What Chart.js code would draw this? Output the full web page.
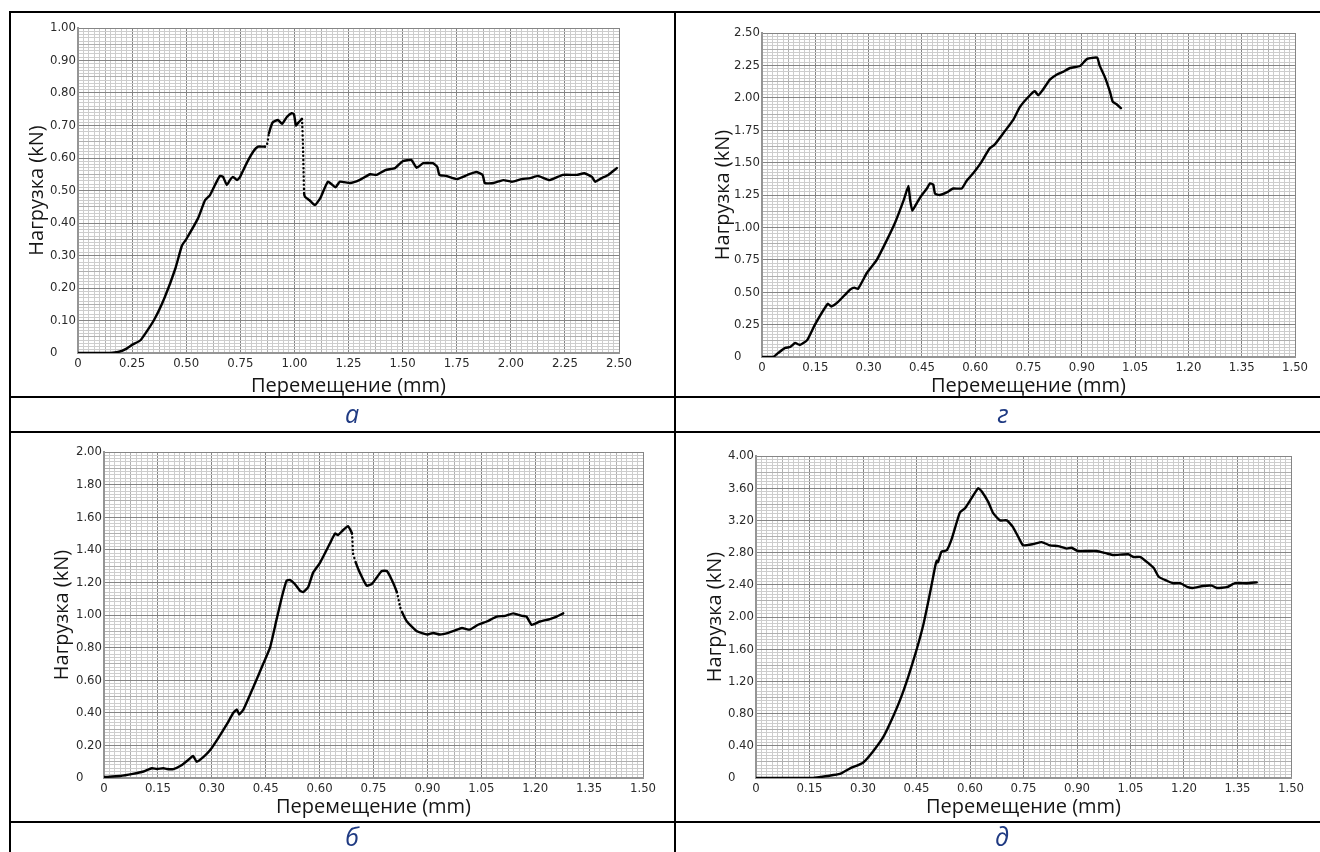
<!DOCTYPE html>
<html>
<head>
<meta charset="utf-8">
<script src="https://cdn.jsdelivr.net/npm/chart.js@4.4.0/dist/chart.umd.min.js"></script>
<style>
  body { margin: 0; background: #fff; }
  #page { position: relative; width: 1320px; height: 852px; overflow: hidden; background: #fff; }
  .rule { position: absolute; background: #000; }
  canvas { position: absolute; }
  .cap { position: absolute; transform: translate(-50%, -50%); font-family: "Open Sans", sans-serif;
         font-style: italic; font-size: 25px; line-height: 1; color: #1f3a82; }
</style>
</head>
<body>
<div id="page">
  <div class="rule" style="left:9px;top:11px;width:1311px;height:2px"></div>
  <div class="rule" style="left:9px;top:396px;width:1311px;height:2px"></div>
  <div class="rule" style="left:9px;top:431px;width:1311px;height:2px"></div>
  <div class="rule" style="left:9px;top:821px;width:1311px;height:2px"></div>
  <div class="rule" style="left:9px;top:11px;width:2px;height:841px"></div>
  <div class="rule" style="left:674px;top:11px;width:2px;height:841px"></div>

  <canvas id="chartA"></canvas>
  <canvas id="chartG"></canvas>
  <canvas id="chartB"></canvas>
  <canvas id="chartD"></canvas>

  <div class="cap" style="left:352px;top:413px">а</div>
  <div class="cap" style="left:1003px;top:413px">г</div>
  <div class="cap" style="left:352px;top:836px">б</div>
  <div class="cap" style="left:1002px;top:836px">д</div>
</div>
<script>
// axis texts
const xTitle = "Перемещение (mm)";
const yTitle = "Нагрузка (kN)";

// а : displacement (mm) / load (kN)
const dispA = [0, 0.05, 0.10, 0.15, 0.185, 0.22, 0.25, 0.29, 0.35, 0.40, 0.45, 0.48, 0.50, 0.555,
  0.587, 0.61, 0.633, 0.656, 0.67, 0.688, 0.702, 0.716, 0.735, 0.749, 0.78, 0.81, 0.832, 0.864,
  0.873, 0.883, 0.90, 0.924, 0.943, 0.965, 0.988, 0.998, 1.007, 1.017, 1.030, 1.035, 1.040, 1.045,
  1.05, 1.07, 1.095, 1.12, 1.155, 1.19, 1.21, 1.257, 1.30, 1.35, 1.38, 1.42, 1.465, 1.50, 1.54,
  1.565, 1.595, 1.64, 1.66, 1.67, 1.70, 1.75, 1.80, 1.84, 1.87, 1.88, 1.92, 1.965, 2.005, 2.05,
  2.09, 2.125, 2.18, 2.24, 2.305, 2.34, 2.375, 2.39, 2.42, 2.45, 2.49];
const loadA = [0, 0, 0, 0, 0.003, 0.012, 0.025, 0.04, 0.10, 0.17, 0.26, 0.33, 0.35, 0.415,
  0.47, 0.486, 0.517, 0.545, 0.542, 0.517, 0.532, 0.542, 0.532, 0.542, 0.585, 0.62, 0.635, 0.635,
  0.64, 0.677, 0.71, 0.717, 0.705, 0.726, 0.738, 0.735, 0.70, 0.708, 0.717, 0.72, 0.63, 0.49,
  0.48, 0.47, 0.455, 0.477, 0.527, 0.51, 0.527, 0.523, 0.532, 0.55, 0.548, 0.563, 0.569, 0.59, 0.594,
  0.57, 0.584, 0.584, 0.573, 0.548, 0.545, 0.535, 0.548, 0.557, 0.548, 0.523, 0.523, 0.532, 0.527, 0.535,
  0.538, 0.545, 0.532, 0.548, 0.548, 0.553, 0.542, 0.527, 0.538, 0.548, 0.569];

// г
const dispG = [0, 0.031, 0.045, 0.065, 0.079, 0.093, 0.107, 0.127, 0.149, 0.185, 0.195, 0.214,
  0.248, 0.26, 0.27, 0.295, 0.323, 0.351, 0.375, 0.40, 0.412, 0.417, 0.423, 0.436, 0.45, 0.464,
  0.473, 0.482, 0.487, 0.50, 0.52, 0.538, 0.562, 0.576, 0.595, 0.614, 0.641, 0.655, 0.68, 0.707,
  0.726, 0.754, 0.768, 0.777, 0.79, 0.81, 0.83, 0.847, 0.867, 0.895, 0.915, 0.943, 0.95, 0.965,
  0.98, 0.987, 0.998, 1.01];
const loadG = [0, 0, 0.03, 0.07, 0.077, 0.108, 0.093, 0.13, 0.25, 0.41, 0.39, 0.425,
  0.52, 0.535, 0.525, 0.648, 0.75, 0.90, 1.04, 1.22, 1.32, 1.21, 1.13, 1.19, 1.25, 1.30,
  1.34, 1.33, 1.26, 1.25, 1.27, 1.30, 1.30, 1.36, 1.42, 1.49, 1.61, 1.64, 1.73, 1.83,
  1.93, 2.02, 2.05, 2.02, 2.06, 2.14, 2.18, 2.20, 2.23, 2.245, 2.30, 2.31, 2.25, 2.16,
  2.04, 1.97, 1.95, 1.92];

// б
const dispB = [0, 0.045, 0.08, 0.11, 0.133, 0.147, 0.165, 0.175, 0.193, 0.217, 0.234, 0.248,
  0.258, 0.277, 0.295, 0.318, 0.342, 0.36, 0.37, 0.376, 0.388, 0.416, 0.444, 0.462, 0.48, 0.495,
  0.508, 0.517, 0.531, 0.545, 0.554, 0.568, 0.582, 0.601, 0.629, 0.643, 0.651, 0.665, 0.679, 0.69,
  0.693, 0.701, 0.712, 0.731, 0.745, 0.759, 0.773, 0.787, 0.80, 0.815, 0.824, 0.829, 0.843, 0.871,
  0.90, 0.916, 0.935, 0.958, 0.977, 0.996, 1.018, 1.041, 1.065, 1.093, 1.116, 1.139, 1.163, 1.176,
  1.19, 1.213, 1.241, 1.26, 1.278];
const loadB = [0.006, 0.012, 0.025, 0.04, 0.06, 0.055, 0.06, 0.055, 0.055, 0.08, 0.11, 0.135,
  0.10, 0.13, 0.17, 0.245, 0.33, 0.40, 0.42, 0.39, 0.42, 0.56, 0.705, 0.80, 0.97, 1.11,
  1.21, 1.215, 1.19, 1.15, 1.14, 1.17, 1.26, 1.32, 1.44, 1.50, 1.49, 1.52, 1.545, 1.50,
  1.38, 1.32, 1.26, 1.18, 1.19, 1.23, 1.27, 1.27, 1.22, 1.14, 1.05, 1.02, 0.96, 0.90,
  0.88, 0.89, 0.88, 0.89, 0.905, 0.92, 0.91, 0.94, 0.96, 0.99, 0.995, 1.01, 0.995, 0.99,
  0.94, 0.96, 0.975, 0.99, 1.01];

// д
const dispD = [0, 0.16, 0.20, 0.235, 0.264, 0.30, 0.328, 0.357, 0.38, 0.404, 0.427, 0.45, 0.47,
  0.488, 0.502, 0.507, 0.51, 0.52, 0.535, 0.548, 0.563, 0.572, 0.586, 0.605, 0.623, 0.633, 0.651,
  0.665, 0.684, 0.703, 0.72, 0.737, 0.749, 0.777, 0.801, 0.824, 0.847, 0.871, 0.885, 0.902, 0.93,
  0.955, 0.983, 1.002, 1.044, 1.058, 1.078, 1.10, 1.115, 1.129, 1.152, 1.169, 1.189, 1.211, 1.225,
  1.253, 1.278, 1.292, 1.32, 1.343, 1.376, 1.404];
const loadD = [0, 0, 0.025, 0.05, 0.12, 0.19, 0.33, 0.51, 0.72, 0.97, 1.26, 1.59, 1.92,
  2.30, 2.62, 2.70, 2.68, 2.81, 2.83, 2.96, 3.18, 3.30, 3.35, 3.48, 3.60, 3.56, 3.43,
  3.29, 3.20, 3.20, 3.12, 2.98, 2.89, 2.905, 2.93, 2.89, 2.88, 2.85, 2.86, 2.82, 2.82,
  2.82, 2.79, 2.77, 2.78, 2.745, 2.745, 2.67, 2.61, 2.50, 2.45, 2.42, 2.42, 2.37, 2.36,
  2.385, 2.39, 2.36, 2.37, 2.42, 2.42, 2.43];

// axis ranges: [max x, major x step, max y, major y step]
const rangeA = [2.5, 0.25, 1.0, 0.1];
const rangeG = [1.5, 0.15, 2.5, 0.25];
const rangeB = [1.5, 0.15, 2.0, 0.2];
const rangeD = [1.5, 0.15, 4.0, 0.4];

const TICK_FONT = '"Liberation Sans Narrow", "DejaVu Sans Condensed", sans-serif';
const TITLE_FONT = '"Open Sans", sans-serif';
const TITLE_SIZE = 20;

function fmt(v) {
  return Math.abs(v) < 1e-9 ? "0" : v.toFixed(2);
}

function gridColor(c) {
  if (c.index % 10 === 0) return "#858585";
  if (c.index % 5 === 0) return "#b0b0b0";
  return "#cdcdcd";
}

function axis(max, major, text, size, horizontal, titlePad) {
  return {
    type: "linear",
    min: 0,
    max: max,
    afterFit: s => { if (horizontal) s.height = size; else s.width = size; },
    ticks: {
      stepSize: major / 10,
      maxTicksLimit: 1000,
      autoSkip: false,
      maxRotation: 0,
      minRotation: 0,
      padding: horizontal ? 3 : 2,
      color: "#2a2a2a",
      font: { family: TICK_FONT, size: 13 },
      callback: (v, i) => {
        if (i % 10 !== 0) return "";
        // the y "0" sits at the left of the label column
        if (!horizontal && Math.abs(v) < 1e-9) return "0     ";
        return fmt(v);
      }
    },
    grid: { color: gridColor, lineWidth: 1, drawTicks: false },
    border: { display: true, color: "#959595", width: 2 },
    title: {
      display: true,
      text: text,
      color: "#151515",
      font: { family: TITLE_FONT, size: TITLE_SIZE },
      padding: titlePad
    }
  };
}

function makeChart(id, box, area, xs, ys, range, dots) {
  const cv = document.getElementById(id);
  cv.width = box.w;
  cv.height = box.h;
  cv.style.left = box.x + "px";
  cv.style.top = box.y + "px";

  const half = TITLE_SIZE * 1.2 / 2;
  const axisW = area.l - box.x;
  const axisH = box.y + box.h - area.b;
  const pts = xs.map((x, i) => ({ x: x, y: ys[i] }));
  const dotted = (x0, x1) => dots.some(([a, b]) => x0 >= a && x1 <= b);

  return new Chart(cv, {
    type: "scatter",
    data: {
      datasets: [{
        data: pts,
        showLine: true,
        borderColor: "#000",
        borderWidth: 2.4,
        borderCapStyle: "round",
        borderJoinStyle: "round",
        tension: 0.15,
        pointRadius: 0,
        segment: {
          borderDash: c => dotted(c.p0.parsed.x, c.p1.parsed.x) ? [0.1, 4] : undefined
        }
      }]
    },
    options: {
      responsive: false,
      animation: false,
      devicePixelRatio: 1,
      layout: { padding: { left: 0, top: area.t - box.y, right: box.x + box.w - area.r, bottom: 0 } },
      plugins: { legend: { display: false }, tooltip: { enabled: false } },
      scales: {
        x: axis(range[0], range[1], xTitle, axisH, true,
          { top: 0, bottom: box.y + box.h - area.ty - half }),
        y: axis(range[2], range[3], yTitle, axisW, false,
          { top: area.tx - box.x - half, bottom: 0 })
      }
    }
  });
}

makeChart("chartA", { x: 11, y: 13, w: 663, h: 383 },
  { l: 78, t: 28, r: 619, b: 353, tx: 37, ty: 386 }, dispA, loadA, rangeA, [[1.034, 1.046], [0.864, 0.884]]);
makeChart("chartG", { x: 676, y: 13, w: 644, h: 383 },
  { l: 762, t: 33, r: 1295, b: 357, tx: 723, ty: 386 }, dispG, loadG, rangeG, []);
makeChart("chartB", { x: 11, y: 433, w: 663, h: 388 },
  { l: 104, t: 452, r: 643, b: 778, tx: 62, ty: 807 }, dispB, loadB, rangeB, [[0.69, 0.702], [0.815, 0.83]]);
makeChart("chartD", { x: 676, y: 433, w: 644, h: 388 },
  { l: 756, t: 456, r: 1291, b: 778, tx: 715, ty: 807 }, dispD, loadD, rangeD, []);
</script>
</body>
</html>
